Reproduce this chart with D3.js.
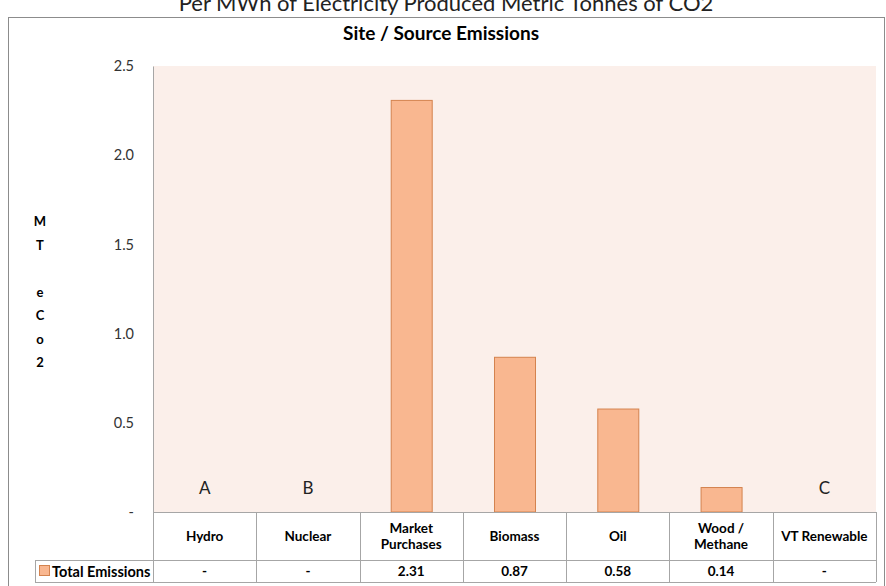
<!DOCTYPE html>
<html>
<head>
<meta charset="utf-8">
<script src="https://cdn.jsdelivr.net/npm/d3@7"></script>
<style>
  html, body { margin: 0; padding: 0; background: #fff; }
  svg { display: block; font-family: Lato, "Open Sans", sans-serif; }
</style>
</head>
<body>
<svg id="chart" width="886" height="586"></svg>
<script>
// Emissions per source, metric tonnes CO2e per MWh
const categories = ["Hydro", "Nuclear", "Market Purchases", "Biomass", "Oil", "Wood / Methane", "VT Renewable"];
const headerLines = [["Hydro"], ["Nuclear"], ["Market", "Purchases"], ["Biomass"], ["Oil"], ["Wood /", "Methane"], ["VT Renewable"]];
const emissions = [0, 0, 2.31, 0.87, 0.58, 0.14, 0];
const tableValues = ["-", "-", "2.31", "0.87", "0.58", "0.14", "-"];
const markers = [{cat: "Hydro", text: "A"}, {cat: "Nuclear", text: "B"}, {cat: "VT Renewable", text: "C"}];
const yTicks = [0, 0.5, 1.0, 1.5, 2.0, 2.5];
const yTickLabels = ["-", "0.5", "1.0", "1.5", "2.0", "2.5"];
const seriesName = "Total Emissions";
const axisTitle = ["M", "T", "", "e", "C", "o", "2"];

const svg = d3.select("#chart");
const plot = {left: 153, right: 876, top: 66, bottom: 512};
const headerBottom = 560, tableBottom = 582, legendLeft = 35;

const x = d3.scaleBand().domain(categories).range([plot.left, plot.right]).paddingInner(0).paddingOuter(0);
const y = d3.scaleLinear().domain([0, 2.5]).range([plot.bottom, plot.top]);

// headline above the frame
svg.append("text")
  .attr("x", 446).attr("y", 11)
  .attr("text-anchor", "middle")
  .attr("font-size", 22).attr("fill", "#222")
  .text("Per MWh of Electricity Produced Metric Tonnes of CO2");

// outer frame
svg.append("rect")
  .attr("x", 8.5).attr("y", 17.5).attr("width", 876).attr("height", 600)
  .attr("fill", "none").attr("stroke", "#8c8c8c").attr("stroke-width", 1);

// chart title
svg.append("text")
  .attr("x", 441).attr("y", 40)
  .attr("text-anchor", "middle")
  .attr("font-size", 19).attr("font-weight", "bold").attr("fill", "#000")
  .text("Site / Source Emissions");

// plot background
svg.append("rect")
  .attr("x", plot.left).attr("y", plot.top)
  .attr("width", plot.right - plot.left).attr("height", plot.bottom - plot.top)
  .attr("fill", "#fbefea");

// y axis
const yAxis = d3.axisLeft(y)
  .tickValues(yTicks)
  .tickFormat((d, i) => yTickLabels[i])
  .tickSize(0).tickPadding(19);
const yg = svg.append("g").attr("transform", `translate(${plot.left},0)`).call(yAxis);
yg.select(".domain").attr("stroke", "#a6a6a6");
yg.selectAll("text").attr("font-size", 14.5).attr("fill", "#333").attr("font-family", "Lato, sans-serif");

// stacked axis title
svg.append("g").selectAll("text")
  .data(axisTitle)
  .join("text")
  .attr("x", 40).attr("y", (d, i) => 226 + i * 23.5)
  .attr("text-anchor", "middle")
  .attr("font-size", 13).attr("font-weight", "bold").attr("fill", "#000")
  .text(d => d);

// bars
const barW = 41;
svg.append("g").selectAll("rect")
  .data(categories.map((c, i) => ({c, v: emissions[i]})).filter(d => d.v > 0))
  .join("rect")
  .attr("x", d => x(d.c) + x.bandwidth() / 2 - barW / 2 + 0.5)
  .attr("y", d => y(d.v) + 0.5)
  .attr("width", barW)
  .attr("height", d => y(0) - y(d.v) - 0.5)
  .attr("fill", "#f9b790")
  .attr("stroke", "#d4834f")
  .attr("stroke-width", 1);

// category markers
svg.append("g").selectAll("text")
  .data(markers)
  .join("text")
  .attr("x", d => x(d.cat) + x.bandwidth() / 2)
  .attr("y", 494)
  .attr("text-anchor", "middle")
  .attr("font-size", 17).attr("fill", "#222")
  .text(d => d.text);

// data table grid
const grid = svg.append("g").attr("stroke", "#a6a6a6").attr("stroke-width", 1).attr("fill", "none");
grid.append("line").attr("x1", plot.left).attr("x2", plot.right).attr("y1", plot.bottom + 0.5).attr("y2", plot.bottom + 0.5);
grid.append("line").attr("x1", legendLeft).attr("x2", plot.right).attr("y1", headerBottom + 0.5).attr("y2", headerBottom + 0.5);
grid.append("line").attr("x1", legendLeft).attr("x2", plot.right).attr("y1", tableBottom + 0.5).attr("y2", tableBottom + 0.5);
grid.append("line").attr("x1", legendLeft + 0.5).attr("x2", legendLeft + 0.5).attr("y1", headerBottom).attr("y2", tableBottom);
const bounds = categories.map(c => x(c)).concat([plot.right]);
grid.selectAll("line.v").data(bounds).join("line")
  .attr("class", "v")
  .attr("x1", d => Math.round(d) + 0.5).attr("x2", d => Math.round(d) + 0.5)
  .attr("y1", plot.bottom).attr("y2", tableBottom);

// header row
const hdr = svg.append("g").selectAll("text")
  .data(categories.map((c, i) => ({c, lines: headerLines[i]})))
  .join("text")
  .attr("text-anchor", "middle")
  .attr("font-size", 13.5).attr("font-weight", "bold").attr("fill", "#000");
hdr.each(function(d) {
  const t = d3.select(this);
  const cx = x(d.c) + x.bandwidth() / 2;
  const n = d.lines.length;
  d.lines.forEach((ln, k) => {
    t.append("tspan").attr("x", cx).attr("y", 541 + (k - (n - 1) / 2) * 16).text(ln);
  });
});

// value row
svg.append("g").selectAll("text")
  .data(categories.map((c, i) => ({c, v: tableValues[i]})))
  .join("text")
  .attr("x", d => x(d.c) + x.bandwidth() / 2)
  .attr("y", 576)
  .attr("text-anchor", "middle")
  .attr("font-size", 13.5).attr("font-weight", "bold").attr("fill", "#000")
  .text(d => d.v);

// legend key inside the table
svg.append("rect")
  .attr("x", 39.5).attr("y", 565.5).attr("width", 10).attr("height", 10)
  .attr("fill", "#f9b790").attr("stroke", "#d4834f");
svg.append("text")
  .attr("x", 52).attr("y", 576.5)
  .attr("font-size", 14.5).attr("font-weight", "bold").attr("fill", "#000")
  .text(seriesName);
</script>
</body>
</html>
